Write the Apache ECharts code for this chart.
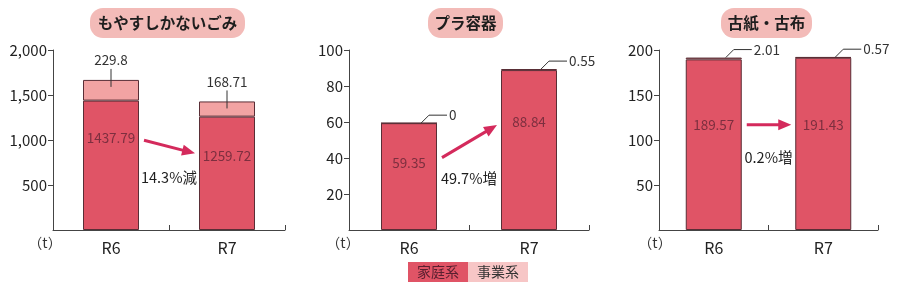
<!DOCTYPE html>
<html><head><meta charset="utf-8">
<script src="https://cdn.jsdelivr.net/npm/echarts@6/dist/echarts.min.js"></script>
<style>html,body{margin:0;padding:0;background:#fff}#c{width:900px;height:289px}</style>
</head><body><div id="c"></div>
<script>
// ---- data ----
const categories = ['R6', 'R7'];
const panelTitles = ['もやすしかないごみ', 'プラ容器', '古紙・古布'];
const household1 = [1437.79, 1259.72];
const business1 = [229.8, 168.71];
const household2 = [59.35, 88.84];
const business2 = [0, 0.55];
const household3 = [189.57, 191.43];
const business3 = [2.01, 0.57];
const changeLabels = ['14.3%減', '49.7%増', '0.2%増'];
const yMax = [2000, 100, 200];
const yInterval = [500, 20, 50];
const legendNames = ['家庭系', '事業系'];
const unitLabel = '（t）';

// ---- layout / style ----
const FONT = "'Noto Sans CJK JP', 'Noto Sans', sans-serif";
const C_HOME = '#e05466', C_BIZ = '#f2a3a3', C_BORDER = '#5a2e36', C_ARROW = '#d42a5c';
const grids = [
  { left: 53, width: 232, top: 50, height: 180 },
  { left: 349, width: 240, top: 50, height: 180 },
  { left: 659, width: 219, top: 50, height: 180 }
];
const titleBoxes = [
  { cx: 167.5, w: 155 }, { cx: 465.5, w: 75 }, { cx: 766.5, w: 91 }
];
const homeLabelDy = [[-27, -17], [-14, -28], [-20, -19]];
const bizLabelStyle = ['vertical', 'elbow', 'elbow'];
const arrowYOffsets = [[2, -3], [-5, 3], [0, 0]];
const changeLabelY = [177, 178, 157];
const unitX = [45, 343, 655];

const panels = [
  { home: household1, biz: business1 },
  { home: household2, biz: business2 },
  { home: household3, biz: business3 }
];

const xAxes = [], yAxes = [], series = [];
panels.forEach((p, i) => {
  xAxes.push({
    type: 'category', gridIndex: i, data: categories,
    axisLine: { lineStyle: { color: '#444', width: 1 } },
    axisTick: { show: true, inside: true, length: 5, lineStyle: { color: '#444' } },
    axisLabel: { color: '#222', fontSize: 16, fontFamily: FONT, fontWeight: 'normal', margin: 10 }
  });
  yAxes.push({
    type: 'value', gridIndex: i, min: 0, max: yMax[i], interval: yInterval[i],
    axisLine: { show: true, lineStyle: { color: '#444', width: 1 } },
    axisTick: { show: true, length: 5, lineStyle: { color: '#444' } },
    splitLine: { show: false },
    axisLabel: {
      color: '#222', fontSize: 15, fontFamily: FONT, margin: 6, showMinLabel: false,
      formatter: v => v.toLocaleString('en-US')
    }
  });
  series.push({
    type: 'bar', name: legendNames[0], stack: 's' + i, xAxisIndex: i, yAxisIndex: i,
    barWidth: 56,
    itemStyle: { color: C_HOME, borderColor: C_BORDER, borderWidth: 1 },
    label: { show: true, position: 'inside', color: '#7d2f3f', fontSize: 13.5, fontFamily: FONT },
    data: p.home.map((v, j) => ({ value: v, label: { show: true, offset: [0, homeLabelDy[i][j]] } }))
  });
  series.push({
    type: 'bar', name: legendNames[1], stack: 's' + i, xAxisIndex: i, yAxisIndex: i,
    barWidth: 56,
    itemStyle: { color: C_BIZ, borderColor: C_BORDER, borderWidth: 1 },
    data: p.biz
  });
});

const chart = echarts.init(document.getElementById('c'), null, { renderer: 'canvas' });
chart.setOption({
  animation: false,
  grid: grids,
  xAxis: xAxes,
  yAxis: yAxes,
  series: series
});

function txt(x, y, text, opt) {
  opt = opt || {};
  return {
    type: 'text', silent: true, z: 100,
    style: {
      x: x, y: y, text: text,
      font: (opt.weight || 'normal') + ' ' + (opt.size || 13) + 'px ' + FONT,
      fill: opt.color || '#222',
      align: opt.align || 'center', textAlign: opt.align || 'center',
      verticalAlign: 'middle', textVerticalAlign: 'middle'
    }
  };
}

const graphics = [];
// titles
titleBoxes.forEach((b, i) => {
  graphics.push({
    type: 'rect', silent: true, z: 90,
    shape: { x: b.cx - b.w / 2, y: 8, width: b.w, height: 30, r: 13 },
    style: { fill: '#f3bbb8' }
  });
  graphics.push(txt(b.cx, 23, panelTitles[i], { size: 15.5, weight: 'bold', color: '#1e1e1e' }));
});

panels.forEach((p, i) => {
  const finder = { gridIndex: i };
  const half = 28;
  const centers = categories.map((c) => chart.convertToPixel(finder, [c, 0])[0]);
  const labelYs = [];
  categories.forEach((c, j) => {
    const total = p.home[j] + p.biz[j];
    const top = chart.convertToPixel(finder, [c, total])[1];
    const homeMid = chart.convertToPixel(finder, [c, p.home[j] / 2])[1];
    labelYs.push(homeMid + homeLabelDy[i][j]);
    const x = centers[j];
    const lbl = String(p.biz[j]);
    if (bizLabelStyle[i] === 'vertical') {
      graphics.push({
        type: 'line', silent: true, z: 100,
        shape: { x1: x, y1: top - 11, x2: x, y2: top + 7 },
        style: { stroke: '#333', lineWidth: 1 }
      });
      graphics.push(txt(x, top - 20, lbl, { size: 13.5, color: '#333' }));
    } else {
      graphics.push({
        type: 'polyline', silent: true, z: 100,
        shape: { points: [[x + 12, top], [x + 20, top - 8], [x + 38, top - 8]] },
        style: { stroke: '#333', lineWidth: 1, fill: null }
      });
      graphics.push(txt(x + 40, top - 8, lbl, { size: 13.5, color: '#333', align: 'left' }));
    }
  });
  // arrow
  const sx = centers[0] + half + 5, sy = labelYs[0] + arrowYOffsets[i][0];
  const ex = centers[1] - half - 4, ey = labelYs[1] + arrowYOffsets[i][1];
  const dx = ex - sx, dy = ey - sy, len = Math.sqrt(dx * dx + dy * dy);
  const ux = dx / len, uy = dy / len, hl = 13, hw = 5.5;
  const bx = ex - ux * hl, by = ey - uy * hl;
  graphics.push({
    type: 'line', silent: true, z: 100,
    shape: { x1: sx, y1: sy, x2: bx + ux * 2, y2: by + uy * 2 },
    style: { stroke: C_ARROW, lineWidth: 3 }
  });
  graphics.push({
    type: 'polygon', silent: true, z: 100,
    shape: { points: [[ex, ey], [bx - uy * hw, by + ux * hw], [bx + uy * hw, by - ux * hw]] },
    style: { fill: C_ARROW }
  });
  // change label
  const midX = (centers[0] + centers[1]) / 2;
  graphics.push(txt(midX, changeLabelY[i], changeLabels[i], { size: 14.5, color: '#1e1e1e' }));
  // unit
  graphics.push(txt(unitX[i], 243, unitLabel, { size: 14, color: '#333' }));
});

// legend
graphics.push({ type: 'rect', silent: true, shape: { x: 408, y: 262, width: 60, height: 20 }, style: { fill: C_HOME } });
graphics.push({ type: 'rect', silent: true, shape: { x: 468, y: 262, width: 60, height: 20 }, style: { fill: '#f7c6c6' } });
graphics.push(txt(438, 272, legendNames[0], { size: 14, color: '#5a2030' }));
graphics.push(txt(498, 272, legendNames[1], { size: 14, color: '#333' }));

chart.setOption({ graphic: graphics });
</script>
</body></html>
